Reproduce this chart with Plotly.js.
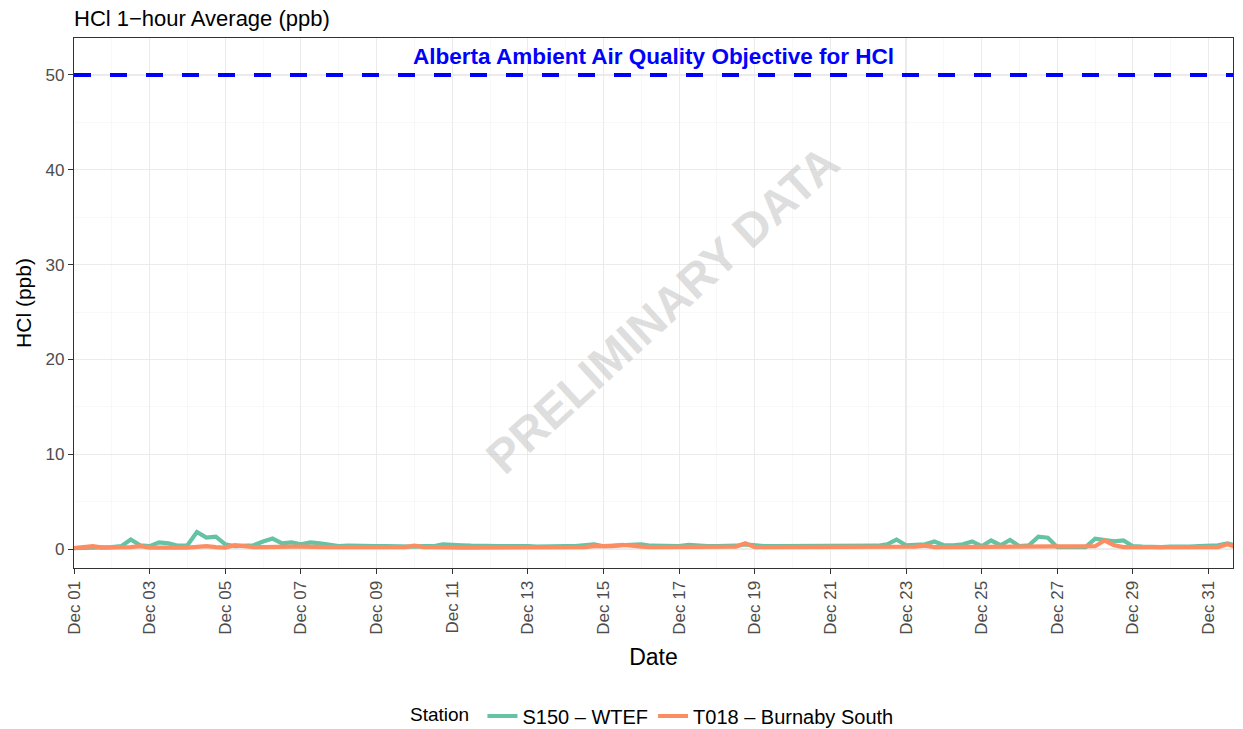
<!DOCTYPE html>
<html>
<head>
<meta charset="utf-8">
<script src="https://cdn.plot.ly/plotly-3.0.1.min.js"></script>
<style>html,body{margin:0;padding:0;background:#fff}#chart{width:1243px;height:729px}</style>
</head>
<body>
<div id="chart"></div>
<script>
// 6-hourly readings starting 2023-12-01 00:00 (00,06,12,18 each day)
const startTime = "2023-12-01T00:00:00";
const stepHours = 6;

const s150WTEF = [
  0.1, 0.1, 0.15, 0.2,
  0.2, 0.3, 1.0, 0.4,
  0.3, 0.7, 0.6, 0.35,
  0.4, 1.8, 1.2, 1.3,
  0.5, 0.3, 0.3, 0.4,
  0.8, 1.1, 0.6, 0.7,
  0.5, 0.7, 0.6, 0.4,
  0.3, 0.35, 0.3, 0.3,
  0.3, 0.3, 0.25, 0.3,
  0.25, 0.3, 0.3, 0.5,
  0.5, 0.4, 0.35, 0.3,
  0.3, 0.3, 0.3, 0.35,
  0.3, 0.25, 0.3, 0.3,
  0.3, 0.3, 0.35, 0.5,
  0.3, 0.35, 0.4, 0.55,
  0.5, 0.35, 0.3, 0.3,
  0.3, 0.45, 0.35, 0.3,
  0.3, 0.3, 0.35, 0.5,
  0.35, 0.3, 0.3, 0.3,
  0.3, 0.4, 0.3, 0.3,
  0.3, 0.3, 0.35, 0.3,
  0.3, 0.35, 0.5, 1.0,
  0.4, 0.4, 0.5, 0.8,
  0.4, 0.4, 0.5, 0.8,
  0.3, 0.9, 0.4, 0.95,
  0.3, 0.4, 1.3, 1.2,
  0.2, 0.2, 0.2, 0.2,
  1.1, 1.0, 0.8, 0.9,
  0.3, 0.25, 0.2, 0.2,
  0.25, 0.2, 0.25, 0.3,
  0.3, 0.4, 0.6, 0.3
];

const t018BurnabySouth = [
  0.1, 0.15, 0.3, 0.15,
  0.15, 0.15, 0.2, 0.3,
  0.15, 0.15, 0.2, 0.15,
  0.15, 0.2, 0.3, 0.2,
  0.15, 0.4, 0.25, 0.2,
  0.2, 0.25, 0.2, 0.25,
  0.25, 0.2, 0.2, 0.2,
  0.2, 0.2, 0.25, 0.3,
  0.3, 0.25, 0.2, 0.2,
  0.35, 0.2, 0.2, 0.15,
  0.15, 0.15, 0.15, 0.15,
  0.15, 0.15, 0.15, 0.15,
  0.15, 0.15, 0.15, 0.15,
  0.15, 0.15, 0.2, 0.3,
  0.3, 0.3, 0.45, 0.3,
  0.25, 0.2, 0.2, 0.2,
  0.2, 0.2, 0.2, 0.2,
  0.2, 0.2, 0.25, 0.6,
  0.2, 0.2, 0.2, 0.2,
  0.2, 0.2, 0.2, 0.2,
  0.2, 0.15, 0.2, 0.2,
  0.2, 0.2, 0.25, 0.2,
  0.2, 0.25, 0.35, 0.2,
  0.2, 0.2, 0.2, 0.2,
  0.2, 0.2, 0.3, 0.2,
  0.2, 0.2, 0.2, 0.2,
  0.2, 0.2, 0.2, 0.2,
  0.3, 0.9, 0.4, 0.2,
  0.2, 0.2, 0.15, 0.15,
  0.15, 0.15, 0.15, 0.15,
  0.15, 0.2, 0.5, 0.2
];

const stationNames = ["S150 \u2013 WTEF", "T018 \u2013 Burnaby South"];
const stationColors = ["#66C2A5", "#FC8D62"];
const objectiveValue = 50;
const objectiveLabel = "Alberta Ambient Air Quality Objective for HCl";
const xRange = ["2023-12-01 00:00", "2023-12-31 15:30"];
const yRange = [-2.0, 53.9];

function fmt(d){
  const p = n => String(n).padStart(2,"0");
  return d.getUTCFullYear()+"-"+p(d.getUTCMonth()+1)+"-"+p(d.getUTCDate())+" "+p(d.getUTCHours())+":00";
}
const t0 = new Date(startTime + "Z");
const times = s150WTEF.map((_, i) => fmt(new Date(t0.getTime() + i*stepHours*3600000)));

const FONT = "Liberation Sans, Arial, Helvetica, sans-serif";
const traces = [s150WTEF, t018BurnabySouth].map((vals, k) => ({
  type: "scatter", mode: "lines", x: times, y: vals, name: stationNames[k],
  line: {color: stationColors[k], width: 4.2}
}));

const gridMajor = "#EBEBEB";
const layout = {
  width: 1243, height: 729,
  margin: {l: 74, r: 10, t: 38, b: 161, autoexpand: false},
  paper_bgcolor: "#fff", plot_bgcolor: "#fff",
  font: {family: FONT, color: "#000"},
  title: {text: "HCl 1\u2212hour Average (ppb)", font: {size: 22, color: "#000", family: FONT},
          x: 0, xref: "paper", xanchor: "left", y: 1 - 18/729, yref: "container", yanchor: "middle"},
  xaxis: {
    type: "date", range: xRange,
    tick0: "2023-12-01", dtick: 2*86400000, tickformat: "%b %d", tickangle: -90,
    ticks: "outside", ticklen: 5, tickcolor: "#333", tickwidth: 1,
    tickfont: {size: 17, color: "#4D4D4D", family: FONT},
    showgrid: true, gridcolor: gridMajor, gridwidth: 1.1,
    minor: {dtick: 86400000, tick0: "2023-12-02", showgrid: true, gridcolor: "#F3F3F3", gridwidth: 0.6, ticks: ""},
    showline: true, linecolor: "#333", linewidth: 1.1, mirror: true, zeroline: false,
    title: {text: "Date", font: {size: 23, color: "#000", family: FONT}, standoff: 15},
    automargin: false
  },
  yaxis: {
    range: yRange, tick0: 0, dtick: 10,
    ticks: "outside", ticklen: 5, tickcolor: "#333", tickwidth: 1,
    tickfont: {size: 17, color: "#4D4D4D", family: FONT},
    showgrid: true, gridcolor: gridMajor, gridwidth: 1.1,
    minor: {dtick: 5, tick0: 0, showgrid: true, gridcolor: "#F3F3F3", gridwidth: 0.6, ticks: ""},
    showline: true, linecolor: "#333", linewidth: 1.1, mirror: true, zeroline: false,
    title: {text: "HCl (ppb)", font: {size: 21, color: "#000", family: FONT}, standoff: 8},
    automargin: false
  },
  showlegend: true,
  legend: {
    orientation: "h", x: 0.5, xanchor: "center", xref: "paper",
    y: (729 - 716) / 729, yanchor: "middle", yref: "container",
    title: {text: "Station ", font: {size: 19, color: "#000", family: FONT}, side: "left"},
    font: {size: 20, color: "#000", family: FONT},
    itemwidth: 30, bgcolor: "rgba(0,0,0,0)"
  },
  shapes: [{
    type: "line", xref: "paper", x0: 0, x1: 1, yref: "y", y0: objectiveValue, y1: objectiveValue,
    line: {color: "#0000FF", width: 4, dash: "17px,19px"}, layer: "above"
  }],
  annotations: [
    {text: "<b>" + objectiveLabel + "</b>", xref: "paper", x: 0.5, yref: "y", y: objectiveValue + 1.9,
     showarrow: false, font: {size: 22.5, color: "#0000FF", family: FONT}, xanchor: "center", yanchor: "middle"},
    {text: "<b>PRELIMINARY DATA</b>", xref: "paper", yref: "paper", x: (662-74)/1159, y: (568-309)/530,
     showarrow: false, textangle: -42.5, font: {size: 47, color: "rgba(200,200,200,0.6)", family: FONT}}
  ]
};

Plotly.newPlot("chart", traces, layout, {staticPlot: true, displayModeBar: false});
</script>
</body>
</html>
